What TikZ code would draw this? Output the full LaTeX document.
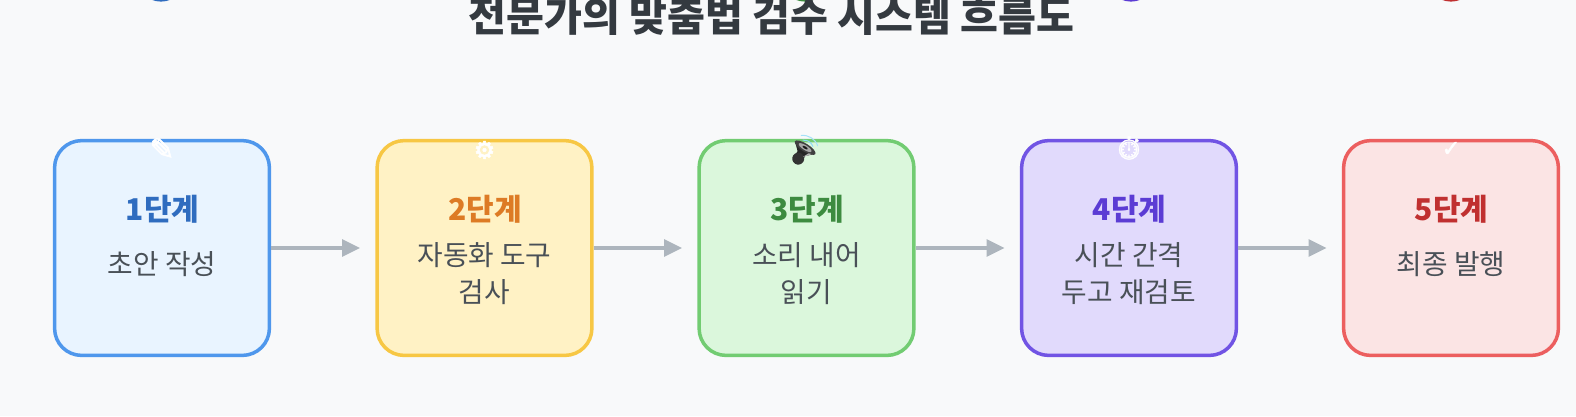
\documentclass[tikz,border=0pt]{standalone}
\usepackage{fontspec}
\setmainfont{Noto Sans CJK KR}
\newfontfamily\emojifont[RawFeature={embolden=1.5}]{Noto Emoji}
\newfontfamily\symfont[RawFeature={embolden=2}]{DejaVu Sans}
\usetikzlibrary{arrows.meta}
\definecolor{bgc}{HTML}{F8F9FA}
\definecolor{titlec}{HTML}{343A40}
\definecolor{descc}{HTML}{495057}
\definecolor{arrowc}{HTML}{ADB5BD}
\definecolor{blueb}{HTML}{4F97EC}\definecolor{bluef}{HTML}{E9F4FF}\definecolor{bluet}{HTML}{2F6CBF}
\definecolor{yelb}{HTML}{F7C744}\definecolor{yelf}{HTML}{FFF2C5}\definecolor{yelt}{HTML}{DD7B25}
\definecolor{greb}{HTML}{72CC72}\definecolor{gref}{HTML}{DBF7DC}\definecolor{gret}{HTML}{3D8B40}
\definecolor{purb}{HTML}{7154E4}\definecolor{purf}{HTML}{E1DAFC}\definecolor{purt}{HTML}{5B3CD4}
\definecolor{redb}{HTML}{EC5F5F}\definecolor{redf}{HTML}{FBE4E4}\definecolor{redt}{HTML}{C03030}
\tikzset{
 x=1pt,y=-1pt,
 stepbox/.style={draw=#1,line width=3.5pt,rounded corners=27pt,minimum width=214.8pt,minimum height=214.8pt,inner sep=0pt},
 headtext/.style={font=\fontsize{30}{34}\selectfont\bfseries,inner sep=0pt,anchor=center},
 desctext/.style={font=\fontsize{27.8}{37}\selectfont,inner sep=0pt,align=center,text=descc,anchor=center},
 icontext/.style={inner sep=0pt,anchor=center,text=white},
 flow/.style={draw=arrowc,line width=3.2pt,-{Triangle[length=18pt,width=17pt,fill=arrowc]}},
 topdot/.style={circle,minimum size=50pt,inner sep=0pt}
}
\begin{document}
\begin{tikzpicture}
\useasboundingbox (0,0) rectangle (1576,416);
\fill[bgc] (0,0) rectangle (1576,416);
\begin{scope}
\clip (0,0) rectangle (1576,416);
\node[topdot,fill=bluet] (d1) at (161,-23.4) {};
\node[topdot,fill=yelt] (d2) at (481,-23.4) {};
\node[topdot,fill=gret] (d3) at (805,-23.4) {};
\node[topdot,fill=purt] (d4) at (1131,-23.4) {};
\node[topdot,fill=redt] (d5) at (1451,-23.4) {};
\node[font=\fontsize{41.2}{43}\selectfont\bfseries,text=titlec,inner sep=0pt] (title) at (771.5,16) {전문가의 맞춤법 검수 시스템 흐름도};
\end{scope}
\node[stepbox=blueb,fill=bluef] (b1) at (162,248) {};
\node[stepbox=yelb,fill=yelf] (b2) at (484.5,248) {};
\node[stepbox=greb,fill=gref] (b3) at (806.5,248) {};
\node[stepbox=purb,fill=purf] (b4) at (1129,248) {};
\node[stepbox=redb,fill=redf] (b5) at (1451,248) {};
\coordinate (e1) at (360,248);
\coordinate (e2) at (682,248);
\coordinate (e3) at (1004.5,248);
\coordinate (e4) at (1326.5,248);
\draw[flow] (b1.east) -- (e1);
\draw[flow] (b2.east) -- (e2);
\draw[flow] (b3.east) -- (e3);
\draw[flow] (b4.east) -- (e4);
\node[headtext,text=bluet] (h1) at (162.5,209.5) {1단계};
\node[headtext,text=yelt] (h2) at (485,209.5) {2단계};
\node[headtext,text=gret] (h3) at (807,209.5) {3단계};
\node[headtext,text=purt] (h4) at (1129.5,209.5) {4단계};
\node[headtext,text=redt] (h5) at (1451.5,209.5) {5단계};
\node[desctext] (t1) at (162,264.3) {초안 작성};
\node[desctext] (t2) at (484.5,273.3) {자동화 도구\\검사};
\node[desctext] (t3) at (806.5,273.3) {소리 내어\\읽기};
\node[desctext] (t4) at (1129,273.3) {시간 간격\\두고 재검토};
\node[desctext] (t5) at (1451,264.3) {최종 발행};
\node[icontext,font=\symfont\fontsize{30}{30}\selectfont] (i1) at (162,149) {✎};
\node[icontext,font=\symfont\fontsize{24}{24}\selectfont] (i2) at (484.5,150) {⚙};
\node[icontext,font=\emojifont\fontsize{23}{23}\selectfont] (i4) at (1129,148) {⏱};
\node[icontext,font=\symfont\fontsize{22}{22}\selectfont] (i5) at (1451,149) {✓};
% speaker picture
\begin{scope}[shift={(803,151)},rotate=58]
 \draw[cyan!35,line width=1pt] (12,-10) arc[start angle=-40,end angle=40,radius=15.5];
 \draw[cyan!45,line width=1pt] (9,-6) arc[start angle=-40,end angle=40,radius=9.5];
 \fill[black!85] (-9,-4.5) -- (-3,-4.5) -- (4,-12) -- (4,12) -- (-3,4.5) -- (-9,4.5) -- cycle;
 \fill[black!80] (-9,0) circle[radius=6];
 \fill[black!75] (4,0) ellipse[x radius=4,y radius=12];
 \fill[black!35] (4,0) ellipse[x radius=2.4,y radius=7.5];
 \fill[black!90] (4,0) ellipse[x radius=1.1,y radius=3];
 \fill[black!30] (-5,3) -- (1,6) -- (2,9) -- (-3,5) -- cycle;
\end{scope}
\end{tikzpicture}
\end{document}
